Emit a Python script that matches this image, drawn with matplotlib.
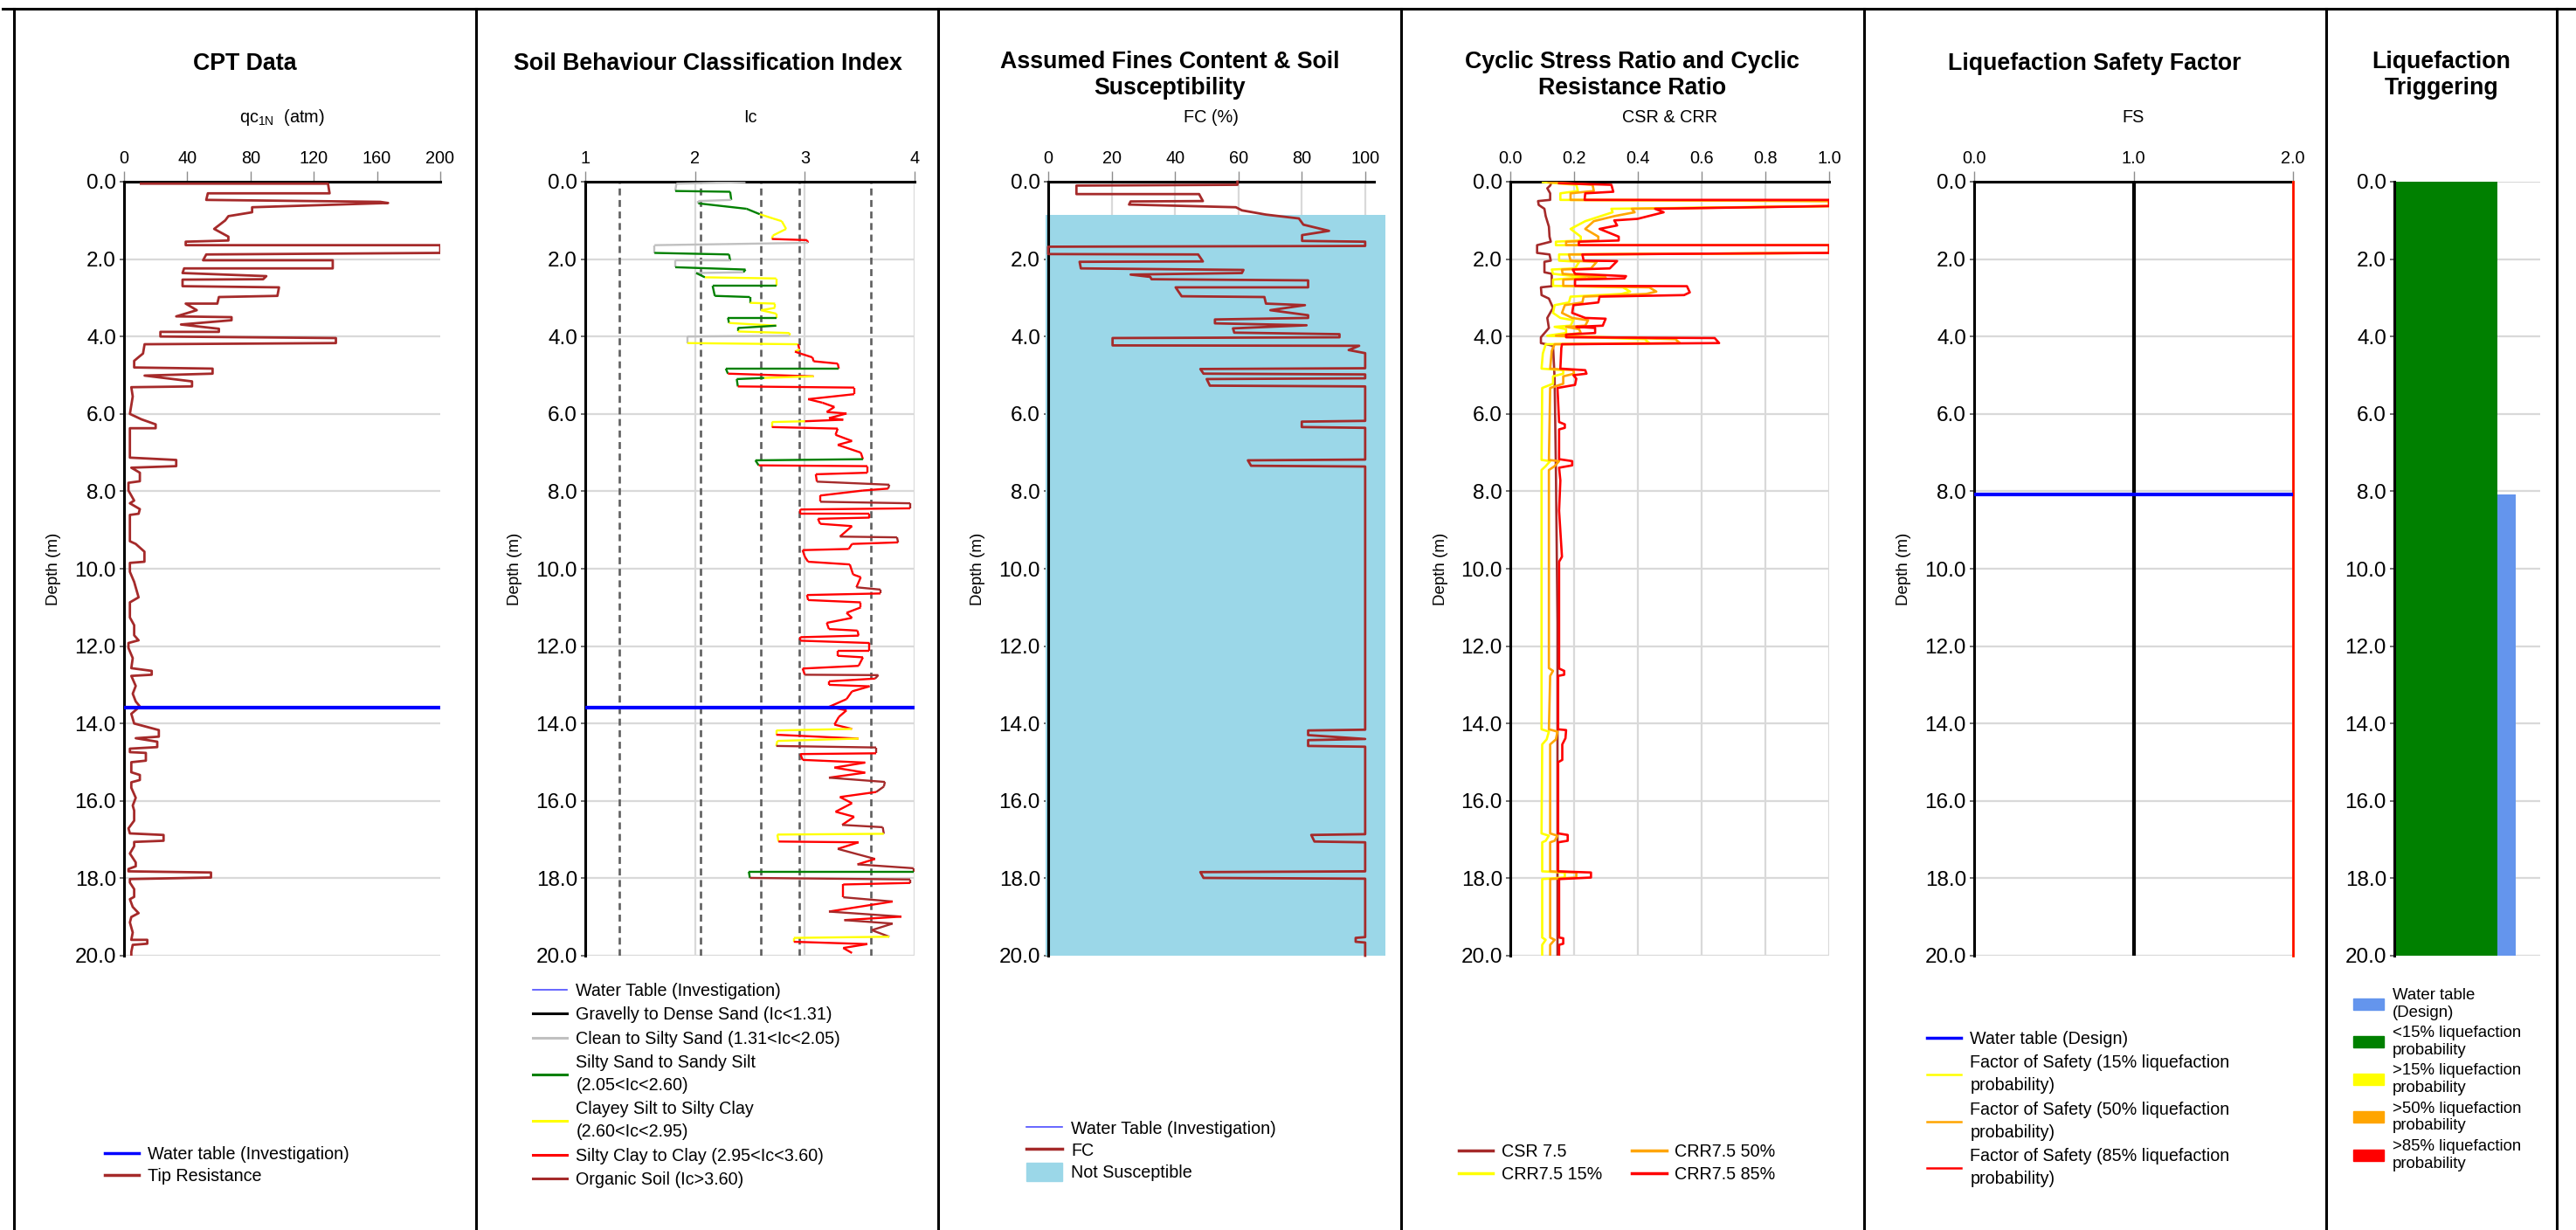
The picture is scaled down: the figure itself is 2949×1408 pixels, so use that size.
import numpy as np
import matplotlib.pyplot as plt
from matplotlib.collections import LineCollection
from matplotlib.lines import Line2D
from matplotlib.patches import Patch

plt.rcParams['font.family'] = ['Liberation Sans', 'DejaVu Sans']

# ---------------- data (depth in m) ----------------
water_inv = 13.6      # water table (investigation)
water_design = 8.07   # water table (design)

# CPT tip resistance qc1N (atm)
cpt = [(0.05, 10.7), (0.05, 129), (0.30, 130), (0.30, 53), (0.47, 52), (0.52, 162), (0.55, 167),
       (0.66, 81), (0.79, 81), (0.89, 66), (1.0, 64), (1.22, 57), (1.42, 66), (1.52, 66), (1.55, 39),
       (1.64, 39), (1.64, 200), (1.84, 200), (1.88, 52), (2.03, 50), (2.03, 132), (2.24, 132),
       (2.24, 38), (2.36, 37), (2.44, 90), (2.52, 88), (2.53, 37), (2.70, 37), (2.73, 98), (2.95, 97),
       (2.98, 60), (3.15, 59), (3.15, 39), (3.32, 46), (3.48, 33), (3.50, 68), (3.58, 68), (3.69, 36),
       (3.80, 60), (3.88, 60), (3.88, 23), (4.0, 23), (4.04, 134), (4.17, 134), (4.20, 13), (4.44, 12),
       (4.54, 9), (4.63, 6.4), (4.80, 6.4), (4.83, 56), (4.96, 56), (5.01, 13), (5.16, 43), (5.29, 43),
       (5.31, 4.6), (5.55, 5.5), (6.0, 3.7), (6.14, 11), (6.27, 20), (6.37, 20), (6.37, 3.7), (7.13, 3.7),
       (7.19, 33), (7.35, 33), (7.39, 4.6), (7.52, 10), (7.74, 10), (7.78, 2.8), (7.98, 2.8), (8.24, 6.4),
       (8.31, 3.7), (8.46, 10), (8.58, 9.2), (8.61, 3.7), (9.29, 3.7), (9.36, 7.4), (9.56, 12.9),
       (9.82, 12.9), (9.85, 3.7), (10.08, 3.7), (10.34, 6.4), (10.74, 9.2), (10.87, 3.7), (11.26, 3.7),
       (11.46, 6.4), (11.72, 6.4), (11.85, 9.2), (11.92, 2.8), (12.05, 2.8), (12.31, 5.5), (12.57, 4.6),
       (12.64, 17.5), (12.74, 17.5), (12.77, 4.6), (13.03, 7.4), (13.23, 5.5), (13.43, 7.4), (13.56, 10),
       (13.75, 4.6), (14.0, 6.4), (14.17, 22), (14.34, 22), (14.38, 7.4), (14.47, 21), (14.61, 21),
       (14.65, 3.7), (14.74, 3.7), (14.76, 13.8), (14.96, 13.8), (15.0, 4.6), (15.26, 4.6), (15.33, 10),
       (15.46, 10), (15.52, 4.6), (15.66, 4.6), (15.92, 7.4), (16.12, 5.5), (16.25, 6.4), (16.51, 6.4),
       (16.71, 2.8), (16.84, 3.7), (16.88, 25), (17.03, 25), (17.06, 6.4), (17.17, 6.4), (17.36, 3.7),
       (17.59, 7.4), (17.69, 7.4), (17.76, 2.8), (17.82, 2.8), (17.85, 55), (17.98, 55), (18.02, 3.7),
       (18.11, 3.7), (18.28, 6.4), (18.48, 6.4), (18.54, 3.7), (18.74, 5.5), (18.90, 9.2), (19.0, 4.6),
       (19.14, 3.7), (19.40, 5.5), (19.59, 4.6), (19.59, 14.7), (19.69, 14.7), (19.72, 5.5), (19.90, 4.6),
       (20.0, 4.6)]

# Soil behaviour classification index Ic
ic = [(0.01, 2.46), (0.05, 1.83), (0.24, 1.82), (0.26, 2.32), (0.47, 2.33), (0.50, 2.03), (0.56, 2.03),
      (0.70, 2.47), (0.84, 2.59), (0.95, 2.71), (1.02, 2.79), (1.22, 2.83), (1.39, 2.71), (1.48, 2.70),
      (1.51, 3.02), (1.58, 3.03), (1.64, 1.63), (1.84, 1.63), (1.88, 2.31), (2.04, 2.32), (2.04, 1.82),
      (2.21, 1.82), (2.27, 2.46), (2.34, 2.44), (2.36, 2.01), (2.47, 2.09), (2.50, 2.74), (2.69, 2.74),
      (2.69, 2.16), (2.95, 2.18), (2.98, 2.50), (3.13, 2.50), (3.15, 2.73), (3.26, 2.73), (3.32, 2.60),
      (3.41, 2.74), (3.52, 2.74), (3.52, 2.30), (3.65, 2.31), (3.72, 2.74), (3.78, 2.39), (3.87, 2.39),
      (3.91, 2.86), (3.98, 2.86), (4.00, 1.93), (4.17, 1.93), (4.20, 2.94), (4.33, 2.95), (4.39, 2.91),
      (4.44, 2.96), (4.54, 3.07), (4.64, 3.08), (4.70, 3.30), (4.83, 3.31), (4.83, 2.28), (4.96, 2.30),
      (5.03, 3.08), (5.07, 2.63), (5.10, 2.38), (5.29, 2.39), (5.32, 3.45), (5.49, 3.45), (5.62, 3.03),
      (5.71, 3.16), (5.82, 3.27), (5.95, 3.20), (5.99, 3.38), (6.11, 3.22), (6.15, 3.35), (6.19, 3.00),
      (6.21, 2.70), (6.34, 2.70), (6.38, 3.30), (6.54, 3.28), (6.70, 3.43), (6.80, 3.30), (7.00, 3.51),
      (7.17, 3.53), (7.20, 2.55), (7.33, 2.58), (7.35, 3.57), (7.52, 3.57), (7.56, 3.10), (7.75, 3.11),
      (7.83, 3.77), (7.93, 3.76), (7.98, 3.53), (8.11, 3.14), (8.27, 3.14), (8.31, 3.96), (8.44, 3.96),
      (8.47, 2.96), (8.57, 2.96), (8.57, 3.59), (8.68, 3.59), (8.71, 3.12), (8.84, 3.14), (8.90, 3.43),
      (9.17, 3.32), (9.19, 3.84), (9.32, 3.85), (9.36, 3.43), (9.49, 3.40), (9.52, 2.98), (9.69, 3.00),
      (9.82, 3.03), (9.89, 3.41), (10.15, 3.44), (10.22, 3.51), (10.48, 3.47), (10.54, 3.69),
      (10.64, 3.69), (10.68, 3.02), (10.81, 3.03), (10.87, 3.51), (11.00, 3.51), (11.14, 3.38),
      (11.27, 3.43), (11.40, 3.20), (11.56, 3.22), (11.60, 3.48), (11.73, 3.49), (11.77, 2.96),
      (11.86, 2.96), (11.92, 3.59), (12.12, 3.59), (12.12, 3.30), (12.25, 3.30), (12.29, 3.53),
      (12.51, 3.49), (12.58, 2.98), (12.74, 3.00), (12.75, 3.67), (12.84, 3.64), (12.91, 3.22),
      (13.00, 3.22), (13.04, 3.59), (13.17, 3.43), (13.37, 3.38), (13.57, 3.22), (13.66, 3.38),
      (13.83, 3.31), (14.03, 3.27), (14.14, 3.43), (14.18, 2.74), (14.29, 2.74), (14.39, 3.49),
      (14.45, 2.75), (14.58, 2.74), (14.62, 3.65), (14.77, 3.65), (14.79, 2.96), (14.94, 2.98),
      (15.01, 3.55), (15.14, 3.27), (15.27, 3.55), (15.40, 3.22), (15.51, 3.73), (15.63, 3.72),
      (15.77, 3.65), (15.90, 3.32), (16.06, 3.43), (16.28, 3.28), (16.41, 3.45), (16.62, 3.34),
      (16.68, 3.71), (16.85, 3.72), (16.87, 2.75), (17.05, 2.76), (17.07, 3.49), (17.24, 3.30),
      (17.50, 3.64), (17.64, 3.48), (17.74, 3.99), (17.83, 3.99), (17.83, 2.49), (17.99, 2.50),
      (18.03, 3.96), (18.12, 3.96), (18.16, 3.35), (18.49, 3.35), (18.60, 3.80), (18.86, 3.22),
      (18.99, 3.88), (19.08, 3.36), (19.17, 3.80), (19.34, 3.61), (19.51, 3.77), (19.54, 2.90),
      (19.64, 2.90), (19.70, 3.57), (19.80, 3.35), (19.93, 3.43)]
ic_bounds = [1.31, 2.05, 2.60, 2.95, 3.60]

# Fines content FC (%)
fc = [(0.0, 59.7), (0.08, 59.7), (0.10, 8.9), (0.32, 8.9), (0.32, 47.6), (0.50, 48.8), (0.51, 26.0),
      (0.59, 25.5), (0.66, 59.2), (0.74, 61.1), (0.85, 68.7), (0.95, 79.1), (1.11, 80.5), (1.27, 88.6),
      (1.38, 80.1), (1.53, 80.1), (1.55, 100), (1.66, 100), (1.68, 0), (1.87, 0), (1.88, 47.3),
      (2.06, 48.8), (2.07, 9.9), (2.24, 10.3), (2.28, 61.6), (2.36, 61.1), (2.40, 26.0), (2.46, 32.2),
      (2.52, 32.6), (2.55, 82), (2.73, 82), (2.73, 40.2), (2.96, 42.1), (2.98, 68.2), (3.15, 68.7),
      (3.19, 81), (3.32, 70.1), (3.45, 82), (3.52, 82), (3.56, 52.6), (3.66, 52.6), (3.71, 81.5),
      (3.79, 58.3), (3.90, 58.7), (3.94, 91.9), (4.02, 91.9), (4.04, 20.3), (4.23, 20.3), (4.24, 98.1),
      (4.35, 94.8), (4.43, 100), (4.82, 100), (4.84, 48), (4.96, 49), (4.98, 100), (5.08, 100),
      (5.10, 50), (5.27, 51), (5.29, 100), (6.18, 100), (6.20, 80), (6.34, 80), (6.36, 100),
      (7.18, 100), (7.20, 63), (7.34, 64), (7.36, 100), (14.16, 100), (14.18, 82), (14.30, 82),
      (14.40, 100), (14.43, 82), (14.58, 82), (14.60, 100), (16.86, 100), (16.88, 83), (17.05, 84),
      (17.07, 100), (17.82, 100), (17.84, 48), (17.99, 49), (18.01, 100), (19.52, 100), (19.54, 97),
      (19.64, 97), (19.66, 100), (20.0, 100)]
not_susc_top, not_susc_bot = 0.85, 20.0

# Cyclic stress ratio and cyclic resistance ratios
csr = [(0.01, 0.13), (0.10, 0.125), (0.17, 0.116), (0.30, 0.125), (0.47, 0.125), (0.50, 0.087),
       (0.60, 0.089), (0.70, 0.107), (0.89, 0.111), (1.16, 0.121), (1.42, 0.123), (1.55, 0.127),
       (1.64, 0.084), (1.84, 0.084), (1.88, 0.123), (2.04, 0.127), (2.07, 0.107), (2.34, 0.107),
       (2.38, 0.13), (2.70, 0.13), (2.73, 0.096), (2.93, 0.098), (3.02, 0.121), (3.26, 0.134),
       (3.52, 0.116), (3.78, 0.121), (4.02, 0.096), (4.17, 0.096), (4.24, 0.134), (5.09, 0.139),
       (7.45, 0.143), (11.4, 0.148), (20.0, 0.148)]
crr85 = [(0.04, 0.153), (0.08, 0.317), (0.26, 0.323), (0.30, 0.235), (0.47, 0.233), (0.47, 1.0),
         (0.63, 1.0), (0.70, 0.454), (0.79, 0.481), (0.96, 0.399), (1.0, 0.326), (1.13, 0.335),
         (1.22, 0.28), (1.42, 0.34), (1.52, 0.34), (1.55, 0.215), (1.64, 0.215), (1.64, 1.0), (1.84, 1.0),
         (1.88, 0.226), (2.04, 0.23), (2.05, 0.335), (2.24, 0.312), (2.27, 0.196), (2.38, 0.203),
         (2.44, 0.363), (2.50, 0.358), (2.53, 0.203), (2.69, 0.203), (2.70, 0.554), (2.86, 0.563),
         (2.93, 0.545), (2.97, 0.28), (3.12, 0.276), (3.19, 0.198), (3.39, 0.194), (3.52, 0.235),
         (3.54, 0.299), (3.72, 0.29), (3.75, 0.207), (3.78, 0.266), (3.91, 0.266), (3.95, 0.175),
         (4.02, 0.175), (4.04, 0.641), (4.17, 0.655), (4.20, 0.162), (4.30, 0.16), (4.83, 0.157),
         (4.87, 0.235), (4.96, 0.239), (5.0, 0.198), (5.09, 0.207), (5.25, 0.203), (5.33, 0.148),
         (6.21, 0.153), (6.27, 0.171), (6.36, 0.171), (6.40, 0.153), (7.17, 0.153), (7.22, 0.194),
         (7.33, 0.194), (7.39, 0.153), (7.72, 0.157), (8.50, 0.153), (9.69, 0.162), (9.82, 0.153),
         (12.58, 0.153), (12.64, 0.169), (12.74, 0.169), (12.77, 0.15), (14.15, 0.15), (14.17, 0.175),
         (14.38, 0.173), (14.54, 0.163), (14.94, 0.163), (15.0, 0.15), (16.84, 0.15), (16.88, 0.18),
         (17.03, 0.18), (17.07, 0.15), (17.82, 0.15), (17.85, 0.253), (17.98, 0.253), (18.02, 0.153),
         (19.53, 0.153), (19.55, 0.166), (19.69, 0.166), (19.72, 0.153), (20.0, 0.153)]
crr50 = [(0.01, 0.12), (0.08, 0.258), (0.24, 0.262), (0.30, 0.189), (0.47, 0.189), (0.50, 1.0),
         (0.63, 1.0), (0.70, 0.381), (0.79, 0.39), (0.89, 0.326), (1.02, 0.262), (1.22, 0.235),
         (1.42, 0.276), (1.52, 0.276), (1.55, 0.175), (1.64, 0.175), (1.64, 1.0), (1.84, 1.0),
         (1.88, 0.184), (2.04, 0.189), (2.07, 0.271), (2.24, 0.253), (2.27, 0.162), (2.38, 0.164),
         (2.47, 0.299), (2.53, 0.166), (2.69, 0.166), (2.73, 0.436), (2.84, 0.458), (2.90, 0.426),
         (2.97, 0.23), (3.12, 0.226), (3.19, 0.171), (3.39, 0.162), (3.52, 0.194), (3.58, 0.244),
         (3.72, 0.235), (3.75, 0.175), (3.81, 0.216), (3.91, 0.221), (3.98, 0.143), (4.07, 0.518),
         (4.17, 0.532), (4.20, 0.139), (4.37, 0.13), (4.83, 0.125), (4.87, 0.198), (4.96, 0.2),
         (5.03, 0.166), (5.22, 0.166), (5.33, 0.125), (7.19, 0.121), (7.22, 0.153), (7.35, 0.139),
         (7.45, 0.121), (12.57, 0.121), (12.64, 0.134), (12.77, 0.125), (14.15, 0.121), (14.21, 0.148),
         (14.41, 0.143), (14.54, 0.125), (16.84, 0.125), (16.90, 0.148), (17.03, 0.139), (17.07, 0.125),
         (17.82, 0.125), (17.85, 0.207), (17.98, 0.207), (18.02, 0.125), (19.53, 0.125), (19.59, 0.139),
         (19.72, 0.125), (20.0, 0.125)]
crr15 = [(0.01, 0.102), (0.08, 0.207), (0.24, 0.212), (0.30, 0.157), (0.47, 0.157), (0.50, 1.0),
         (0.63, 1.0), (0.70, 0.317), (0.79, 0.321), (1.02, 0.235), (1.22, 0.189), (1.42, 0.221),
         (1.52, 0.221), (1.55, 0.143), (1.64, 0.143), (1.64, 1.0), (1.84, 1.0), (1.88, 0.153),
         (2.04, 0.153), (2.07, 0.216), (2.24, 0.203), (2.27, 0.13), (2.38, 0.134), (2.47, 0.235),
         (2.53, 0.134), (2.69, 0.134), (2.73, 0.353), (2.84, 0.376), (2.90, 0.349), (2.97, 0.189),
         (3.12, 0.184), (3.19, 0.139), (3.39, 0.134), (3.52, 0.157), (3.58, 0.198), (3.72, 0.189),
         (3.75, 0.139), (3.81, 0.175), (3.91, 0.175), (3.98, 0.116), (4.07, 0.422), (4.17, 0.436),
         (4.20, 0.111), (4.44, 0.102), (4.83, 0.098), (4.87, 0.166), (4.96, 0.166), (5.03, 0.134),
         (5.22, 0.134), (5.33, 0.1), (7.19, 0.098), (7.22, 0.125), (7.35, 0.111), (7.45, 0.098),
         (14.15, 0.098), (14.21, 0.121), (14.41, 0.114), (14.54, 0.1), (16.84, 0.098), (16.90, 0.121),
         (17.03, 0.111), (17.07, 0.1), (17.82, 0.1), (17.85, 0.171), (17.98, 0.171), (18.02, 0.1),
         (19.53, 0.1), (19.59, 0.111), (19.72, 0.1), (20.0, 0.1)]

# Factor of safety (all capped at 2.0)
fs_depth = [0.0, 20.0]
fs15 = [2.0, 2.0]
fs50 = [2.0, 2.0]
fs85 = [2.0, 2.0]

# Liquefaction triggering column
trig_top, trig_bot = 0.0, 20.0

# ---------------- figure ----------------
W, H = 2949, 1408
fig = plt.figure(figsize=(W / 100, H / 100), dpi=100)
Y0, Y1 = 208, 1094


def fx(p):
    return p / W


def fy(p):
    return 1 - p / H


def depth_axes(x0, x1, xlim, xticks, xfmt, xgrid=True, top=True):
    ax = fig.add_axes([fx(x0), fy(Y1), (x1 - x0) / W, (Y1 - Y0) / H])
    ax.set_ylim(20, 0)
    ax.set_xlim(*xlim)
    yt = np.arange(0, 21, 2)
    ax.set_yticks(yt)
    ax.set_yticklabels([f"{v:.1f}" for v in yt])
    ax.xaxis.tick_top()
    ax.set_xticks(xticks)
    ax.set_xticklabels([xfmt.format(v) for v in xticks])
    for s in ['right', 'bottom']:
        ax.spines[s].set_visible(False)
    for s in ['top', 'left']:
        ax.spines[s].set_linewidth(2.2)
        ax.spines[s].set_color('black')
    if not top:
        ax.spines['top'].set_visible(False)
    ax.tick_params(axis='x', direction='out', length=9, width=1, color='#8c8c8c',
                   labelsize=14.3, pad=3.5)
    ax.tick_params(axis='y', direction='out', length=3.5, width=1.2, color='#555555',
                   labelsize=17.5, pad=3)
    ax.grid(axis='y', color='#d9d9d9', lw=1.6)
    if xgrid:
        ax.grid(axis='x', color='#d9d9d9', lw=1.6)
    ax.set_axisbelow(True)
    return ax


def labels(x0, x1, pcx, title, xlabel, two_line=False, depth=True):
    if two_line:
        fig.text(fx(pcx), fy(86), title, ha='center', va='center', fontsize=19.3,
                 fontweight='bold', linespacing=1.2)
    else:
        fig.text(fx(pcx), fy(73), title, ha='center', va='center', fontsize=19.3, fontweight='bold')
    if xlabel:
        fig.text(fx((x0 + x1) / 2), fy(134), xlabel, ha='center', va='center', fontsize=14.3)
    if depth:
        fig.text(fx(x0 - 80), fy((Y0 + Y1) / 2), 'Depth (m)', rotation=90, ha='center',
                 va='center', fontsize=13.5)


def legend(handles, x, ytop, fs=14.2, ls=1.47, **kw):
    opts = dict(loc='upper left', bbox_to_anchor=(fx(x), fy(ytop)), frameon=False, fontsize=fs,
                handlelength=2.0, handletextpad=0.5, borderpad=0, borderaxespad=0,
                labelspacing=0.42)
    opts.update(kw)
    leg = fig.legend(handles=handles, **opts)
    for t in leg.get_texts():
        t.set_linespacing(ls)
    return leg


# panel frames
for xb in [16, 545, 1074, 1604, 2134, 2663, 2927]:
    fig.add_artist(Line2D([fx(xb), fx(xb)], [fy(10), fy(H)], color='black', lw=2.2,
                          transform=fig.transFigure))
fig.add_artist(Line2D([fx(3), fx(W)], [fy(10), fy(10)], color='black', lw=2.2,
                      transform=fig.transFigure))

BROWN = '#a52a2a'

# --- 1. CPT data ---
ax1 = depth_axes(142, 504, (0, 200), [0, 40, 80, 120, 160, 200], "{:d}", xgrid=False)
d, q = np.array(cpt).T
ax1.plot(q, d, color=BROWN, lw=2.0, zorder=3)
ax1.axhline(water_inv, color='#0000ff', lw=3, zorder=4)
labels(142, 504, 280, 'CPT Data', r'qc$_\mathregular{1N}$  (atm)')
legend([Line2D([], [], color='#0000ff', lw=2.5, label='Water table (Investigation)'),
        Line2D([], [], color=BROWN, lw=2.5, label='Tip Resistance')], 120, 1312,
       labelspacing=0.3)

# --- 2. Ic ---
ax2 = depth_axes(670, 1047, (1, 4), [1, 2, 3, 4], "{:d}")
for b in ic_bounds:
    ax2.axvline(b, color='#5f5f5f', lw=1.9, ls=(0, (3, 2)), zorder=2)


def ic_color(v):
    if v < 1.31:
        return 'black'
    if v < 2.05:
        return '#c0c0c0'
    if v < 2.60:
        return '#008000'
    if v < 2.95:
        return '#ffff00'
    if v < 3.60:
        return '#ff0000'
    return BROWN


d, v = np.array(ic).T
segs = [[(v[i], d[i]), (v[i + 1], d[i + 1])] for i in range(len(d) - 1)]
cols = [ic_color(v[i + 1]) for i in range(len(d) - 1)]
ax2.add_collection(LineCollection(segs, colors=cols, linewidths=1.7, zorder=3))
ax2.axhline(water_inv, color='#0000ff', lw=3, zorder=4)
labels(670, 1047, 810, 'Soil Behaviour Classification Index', 'Ic')
legend([Line2D([], [], color='#4d4dff', lw=1.2, label='Water Table (Investigation)'),
        Line2D([], [], color='black', lw=2.2, label='Gravelly to Dense Sand (Ic<1.31)'),
        Line2D([], [], color='#c0c0c0', lw=2.2, label='Clean to Silty Sand (1.31<Ic<2.05)'),
        Line2D([], [], color='#008000', lw=2.2, label='Silty Sand to Sandy Silt\n(2.05<Ic<2.60)'),
        Line2D([], [], color='#ffff00', lw=2.2, label='Clayey Silt to Silty Clay\n(2.60<Ic<2.95)'),
        Line2D([], [], color='#ff0000', lw=2.2, label='Silty Clay to Clay (2.95<Ic<3.60)'),
        Line2D([], [], color=BROWN, lw=2.2, label='Organic Soil (Ic>3.60)')], 610, 1125)

# --- 3. Fines content ---
ax3 = depth_axes(1200, 1573, (0, 102.8), [0, 20, 40, 60, 80, 100], "{:d}")
ax3.axhline(water_inv, color='#4d4dff', lw=1.2, zorder=0.8)
ax3.fill_betweenx([not_susc_top, not_susc_bot], -0.8, 106.5, color='#9bd7e8', lw=0,
                  zorder=1, clip_on=False)
d, f = np.array(fc).T
ax3.plot(f, d, color=BROWN, lw=2.0, zorder=3, clip_on=False)
labels(1200, 1573, 1339, 'Assumed Fines Content & Soil\nSusceptibility', 'FC (%)', two_line=True)
legend([Line2D([], [], color='#4d4dff', lw=1.2, label='Water Table (Investigation)'),
        Line2D([], [], color=BROWN, lw=2.5, label='FC'),
        Patch(color='#9bd7e8', label='Not Susceptible')], 1175, 1281,
       handleheight=1.25, labelspacing=0.2, handlelength=2.1)

# --- 4. CSR / CRR ---
ax4 = depth_axes(1729, 2094, (0, 1.0), [0, 0.2, 0.4, 0.6, 0.8, 1.0], "{:.1f}")
for data, col in [(csr, BROWN), (crr15, '#ffff00'), (crr50, '#ffa500'), (crr85, '#ff0000')]:
    d, c = np.array(data).T
    ax4.plot(c, d, color=col, lw=1.9, zorder=3)
labels(1729, 2094, 1869, 'Cyclic Stress Ratio and Cyclic\nResistance Ratio', 'CSR & CRR', two_line=True)
legend([Line2D([], [], color=BROWN, lw=2.5, label='CSR 7.5'),
        Line2D([], [], color='#ffff00', lw=2.5, label='CRR7.5 15%'),
        Line2D([], [], color='#ffa500', lw=2.5, label='CRR7.5 50%'),
        Line2D([], [], color='#ff0000', lw=2.5, label='CRR7.5 85%')], 1670, 1309,
       ncol=2, columnspacing=1.7, labelspacing=0.36)

# --- 5. Factor of safety ---
ax5 = depth_axes(2260, 2625, (0, 2.0), [0, 1.0, 2.0], "{:.1f}")
ax5.axvline(1.0, color='black', lw=3, zorder=3)
ax5.plot(fs15, fs_depth, color='#ffff00', lw=1.8, zorder=3, clip_on=False)
ax5.plot(fs50, fs_depth, color='#ffa500', lw=1.8, zorder=3, clip_on=False)
ax5.plot(fs85, fs_depth, color='#ff0000', lw=1.8, zorder=3, clip_on=False)
ax5.axhline(water_design, color='#0000ff', lw=3, zorder=4)
labels(2260, 2625, 2398, 'Liquefaction Safety Factor', 'FS')
legend([Line2D([], [], color='#0000ff', lw=2.5, label='Water table (Design)'),
        Line2D([], [], color='#ffff00', lw=1.8, label='Factor of Safety (15% liquefaction\nprobability)'),
        Line2D([], [], color='#ffa500', lw=1.8, label='Factor of Safety (50% liquefaction\nprobability)'),
        Line2D([], [], color='#ff0000', lw=1.8, label='Factor of Safety (85% liquefaction\nprobability)')],
       2206, 1180)

# --- 6. Liquefaction triggering ---
ax6 = depth_axes(2741, 2908, (0, 1.415), [], "{}", xgrid=False, top=False)
ax6.tick_params(axis='x', length=0)
ax6.bar(0, trig_bot - trig_top, bottom=trig_top, width=1.0, align='edge', color='#008000', zorder=2)
ax6.bar(1.0, trig_bot - water_design, bottom=water_design, width=0.18, align='edge',
        color='#6495ed', zorder=2)
labels(2741, 2908, 2795, 'Liquefaction\nTriggering', None, two_line=True, depth=False)
legend([Patch(color='#6495ed', label='Water table\n(Design)'),
        Patch(color='#008000', label='<15% liquefaction\nprobability'),
        Patch(color='#ffff00', label='>15% liquefaction\nprobability'),
        Patch(color='#ffa500', label='>50% liquefaction\nprobability'),
        Patch(color='#ff0000', label='>85% liquefaction\nprobability')],
       2694, 1131, fs=13.4, ls=1.22, handlelength=1.9, labelspacing=0.34)

fig.savefig('out.png', dpi=100)
